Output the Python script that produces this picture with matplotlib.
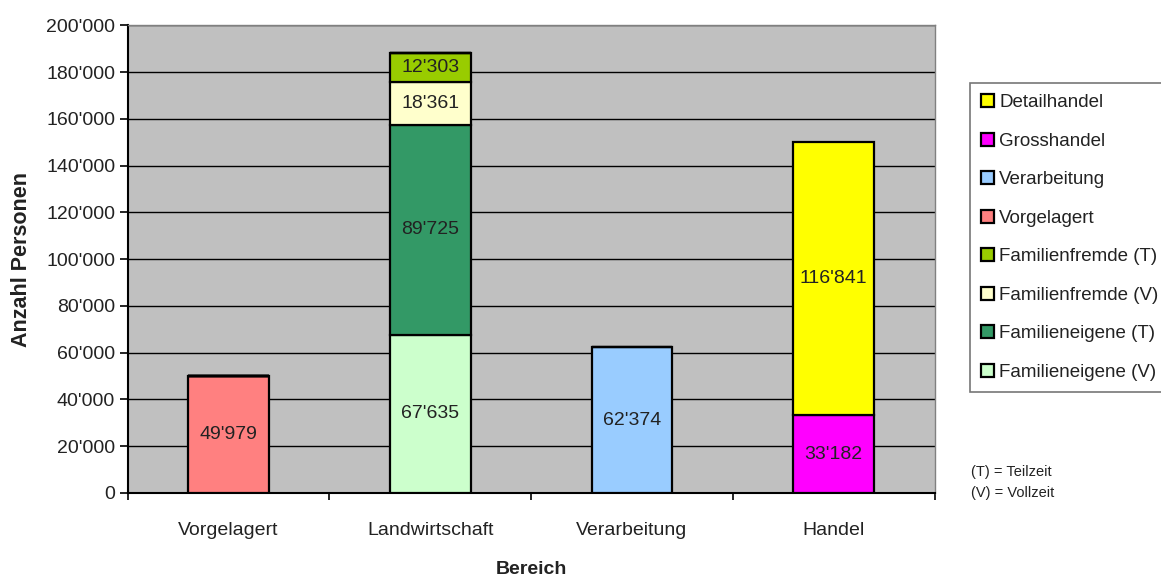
import numpy as np
import matplotlib.pyplot as plt
from matplotlib.ticker import FuncFormatter, FixedLocator

categories = ['Vorgelagert', 'Landwirtschaft', 'Verarbeitung', 'Handel']

# stacking order, bottom to top
series_names = ['Vorgelagert', 'Familieneigene (V)', 'Familieneigene (T)',
                'Familienfremde (V)', 'Familienfremde (T)', 'Verarbeitung',
                'Grosshandel', 'Detailhandel']
vorgelagert = [49979, 0, 0, 0]
fam_eigene_v = [0, 67635, 0, 0]
fam_eigene_t = [0, 89725, 0, 0]
fam_fremde_v = [0, 18361, 0, 0]
fam_fremde_t = [0, 12303, 0, 0]
verarbeitung = [0, 0, 62374, 0]
grosshandel = [0, 0, 0, 33182]
detailhandel = [0, 0, 0, 116841]
series_values = [vorgelagert, fam_eigene_v, fam_eigene_t, fam_fremde_v,
                 fam_fremde_t, verarbeitung, grosshandel, detailhandel]
colors = ['#FF8080', '#CCFFCC', '#339966', '#FFFFCC',
          '#99CC00', '#99CCFF', '#FF00FF', '#FFFF00']

legend_order = ['Detailhandel', 'Grosshandel', 'Verarbeitung', 'Vorgelagert',
                'Familienfremde (T)', 'Familienfremde (V)',
                'Familieneigene (T)', 'Familieneigene (V)']

plt.rcParams['font.family'] = ['Liberation Sans', 'DejaVu Sans']


def swiss(v, pos=None):
    return f'{int(round(v)):,}'.replace(',', "'")


fig = plt.figure(figsize=(11.61, 5.81), dpi=100)
ax = fig.add_axes([0.110, 0.1515, 0.695, 0.805])
ax.set_facecolor('#C0C0C0')

x = np.arange(len(categories))
bottom = np.zeros(len(categories))
handles = {}
for name, vals, col in zip(series_names, series_values, colors):
    vals = np.array(vals, dtype=float)
    b = ax.bar(x, vals, 0.4, bottom=bottom, color=col, edgecolor='black',
               linewidth=1.6, label=name, zorder=3)
    handles[name] = b
    for xi, v, bt in zip(x, vals, bottom):
        if v > 0:
            ax.text(xi, bt + v / 2, swiss(v), ha='center', va='center',
                    fontsize=14, color='#222222', zorder=4)
    bottom += vals

ax.set_xlim(-0.5, len(categories) - 0.5)
ax.set_ylim(0, 200000)
ax.yaxis.set_major_locator(FixedLocator(np.arange(0, 200001, 20000)))
ax.yaxis.set_major_formatter(FuncFormatter(swiss))
ax.yaxis.grid(True, color='black', linewidth=1, zorder=1)
ax.set_axisbelow(True)

ax.set_xticks(x)
ax.set_xticklabels(categories)
ax.set_xticks(np.arange(-0.5, len(categories)), minor=True)
ax.tick_params(axis='x', which='major', length=0, pad=21, labelsize=14,
               labelcolor='#222222')
ax.tick_params(axis='x', which='minor', length=5, width=1.2, direction='out')
ax.tick_params(axis='y', length=6, width=1.2, labelsize=14, pad=3,
               labelcolor='#222222')

for s in ['top', 'right']:
    ax.spines[s].set_color('#808080')
    ax.spines[s].set_linewidth(1)
for s in ['left', 'bottom']:
    ax.spines[s].set_color('black')
    ax.spines[s].set_linewidth(1.5)

ax.set_ylabel('Anzahl Personen', fontsize=15.5, fontweight='bold',
              color='#222222', labelpad=10)
ax.set_xlabel('Bereich', fontsize=14, fontweight='bold', color='#222222',
              labelpad=16)

leg = fig.legend([handles[n] for n in legend_order], legend_order,
                 loc='upper left', bbox_to_anchor=(970 / 1161, 1 - 83 / 581),
                 fontsize=13.5, frameon=True, fancybox=False,
                 edgecolor='#555555', handlelength=0.7, handleheight=0.7,
                 handletextpad=0.25, labelspacing=1.14, borderpad=0.6,
                 borderaxespad=0)
leg.get_frame().set_linewidth(1.2)
for t in leg.get_texts():
    t.set_color('#222222')

fig.text(971 / 1161, 1 - 472 / 581, '(T) = Teilzeit', fontsize=10.5,
         va='center', color='#222222')
fig.text(971 / 1161, 1 - 493 / 581, '(V) = Vollzeit', fontsize=10.5,
         va='center', color='#222222')

fig.savefig('out.png', dpi=100)
plt.close(fig)
